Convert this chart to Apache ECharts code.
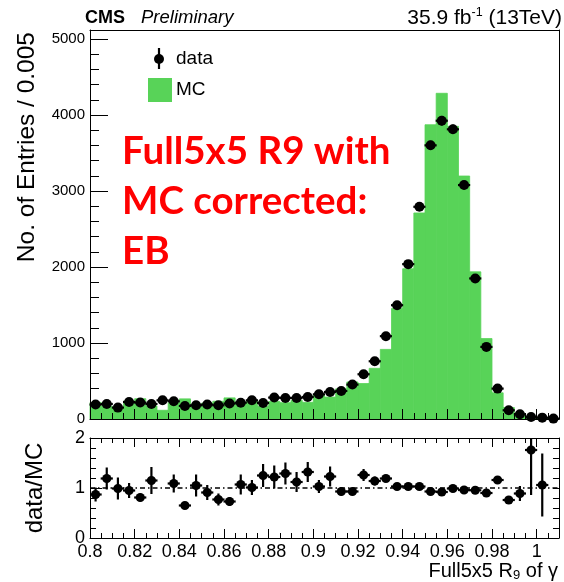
<!DOCTYPE html>
<html>
<head>
<meta charset="utf-8">
<script src="https://cdn.jsdelivr.net/npm/echarts@6/dist/echarts.min.js"></script>
<style>
  html, body { margin: 0; padding: 0; background: #fff; }
  #chart { width: 564px; height: 582px; }
</style>
</head>
<body>
<div id="chart"></div>
<script>
// Full5x5 R9 distribution for barrel photons: data vs. corrected MC, with data/MC ratio.

// Bin centres (bin width 0.005)
const binCenters = [
  0.8025, 0.8075, 0.8125, 0.8175, 0.8225, 0.8275, 0.8325, 0.8375, 0.8425, 0.8475,
  0.8525, 0.8575, 0.8625, 0.8675, 0.8725, 0.8775, 0.8825, 0.8875, 0.8925, 0.8975,
  0.9025, 0.9075, 0.9125, 0.9175, 0.9225, 0.9275, 0.9325, 0.9375, 0.9425, 0.9475,
  0.9525, 0.9575, 0.9625, 0.9675, 0.9725, 0.9775, 0.9825, 0.9875, 0.9925, 0.9975,
  1.0025, 1.0075
];
const binHalfWidth = 0.0025;

// Data entries per bin
const dataCounts = [
  190, 198, 150, 224, 216, 198, 246, 233, 172, 180,
  190, 180, 203, 215, 246, 211, 282, 277, 277, 290,
  325, 356, 369, 453, 589, 760, 1090, 1498, 2038, 2793,
  3602, 3926, 3813, 3079, 1850, 949, 400, 115, 62, 27,
  18, 5
];
const dataErrors = [
  14, 14, 12, 15, 15, 14, 16, 15, 13, 13,
  14, 13, 14, 15, 16, 15, 17, 17, 17, 17,
  18, 19, 19, 21, 24, 28, 33, 39, 45, 53,
  60, 63, 62, 55, 43, 31, 20, 11, 8, 5,
  4, 2
];

// Corrected MC entries per bin
const mcCounts = [
  218, 166, 152, 236, 267, 172, 115, 214, 265, 171,
  209, 234, 278, 201, 244, 169, 231, 215, 247, 220,
  316, 289, 397, 487, 467, 667, 916, 1454, 1978, 2712,
  3873, 4287, 3852, 3198, 1937, 1059, 345, 151, 70, 15,
  17, 0
];

// data/MC ratio and its uncertainty
const ratioValues = [
  0.87, 1.19, 0.99, 0.95, 0.81, 1.15, null, 1.09, 0.65, 1.05,
  0.91, 0.77, 0.73, 1.07, 1.01, 1.25, 1.22, 1.29, 1.12, 1.32,
  1.03, 1.23, 0.93, 0.93, 1.26, 1.14, 1.19, 1.03, 1.03, 1.03,
  0.93, 0.92, 0.99, 0.96, 0.955, 0.90, 1.16, 0.76, 0.89, 1.76,
  1.06, null
];
const ratioErrors = [
  0.14, 0.22, 0.22, 0.15, 0.08, 0.27, 0, 0.18, 0.07, 0.22,
  0.15, 0.12, 0.09, 0.20, 0.15, 0.23, 0.23, 0.22, 0.20, 0.20,
  0.13, 0.20, 0.08, 0.07, 0.12, 0.09, 0.07, 0.04, 0.03, 0.03,
  0.02, 0.02, 0.02, 0.02, 0.03, 0.03, 0.06, 0.08, 0.15, 0.90,
  0.63, 0
];

// Axis ticks and labels
const xMajorTicks = [0.8, 0.82, 0.84, 0.86, 0.88, 0.9, 0.92, 0.94, 0.96, 0.98, 1.0];
const xMinorTicks = [
  0.805, 0.81, 0.815, 0.825, 0.83, 0.835, 0.845, 0.85, 0.855, 0.865, 0.87, 0.875,
  0.885, 0.89, 0.895, 0.905, 0.91, 0.915, 0.925, 0.93, 0.935, 0.945, 0.95, 0.955,
  0.965, 0.97, 0.975, 0.985, 0.99, 0.995, 1.005
];
const mainYMajorTicks = [0, 1000, 2000, 3000, 4000, 5000];
const mainYMinorTicks = [
  200, 400, 600, 800, 1200, 1400, 1600, 1800, 2200, 2400, 2600, 2800,
  3200, 3400, 3600, 3800, 4200, 4400, 4600, 4800
];
const ratioYMajorTicks = [0, 1, 2];
const ratioYMinorTicks = [0.2, 0.4, 0.6, 0.8, 1.2, 1.4, 1.6, 1.8];
const ratioYRightTicks = [0, 0.2, 0.4, 0.6, 0.8, 1, 1.2, 1.4, 1.6, 1.8, 2];

const X_MIN = 0.8, X_MAX = 1.01;
const MAIN_Y_MAX = 5120;
const GREEN = '#58d358';
const FONT = '"Liberation Sans", Arial, sans-serif';
const NOTE_FONT = 'Lato, "Open Sans", sans-serif';

const chart = echarts.init(document.getElementById('chart'), null, { renderer: 'canvas' });

function tickAxis(opts) {
  return {
    type: 'value',
    min: opts.min, max: opts.max,
    gridIndex: opts.grid,
    position: opts.position,
    z: 10,
    splitLine: { show: false },
    axisLine: { show: !!opts.line, onZero: false, lineStyle: { color: '#000', width: 1 } },
    axisTick: {
      show: !!opts.ticks, inside: true, length: opts.length || 0,
      customValues: opts.ticks || undefined,
      lineStyle: { color: '#000', width: 1 }
    },
    axisLabel: opts.labels ? {
      show: true, customValues: opts.labels, margin: opts.margin,
      color: '#000', fontFamily: FONT, fontSize: opts.fontSize,
      formatter: (v) => String(v)
    } : { show: false }
  };
}

// Error-bar marker renderer: horizontal bin-width bar, vertical error, filled circle
function markerRenderer(radius) {
  return function (params, api) {
    const c = api.value(0), v = api.value(1), e = api.value(2);
    if (v == null || isNaN(v)) return null;
    const pc = api.coord([c, v]);
    const pl = api.coord([c - binHalfWidth, v]);
    const pr = api.coord([c + binHalfWidth, v]);
    const pt = api.coord([c, v + e]);
    const pb = api.coord([c, v - e]);
    return {
      type: 'group',
      children: [
        { type: 'line', shape: { x1: pl[0] - 0.5, y1: pl[1], x2: pr[0] + 0.5, y2: pr[1] }, style: { stroke: '#000', lineWidth: 2.2 } },
        { type: 'line', shape: { x1: pt[0], y1: pt[1], x2: pb[0], y2: pb[1] }, style: { stroke: '#000', lineWidth: 2.2 } },
        { type: 'circle', shape: { cx: pc[0], cy: pc[1], r: radius }, style: { fill: '#000' } }
      ]
    };
  };
}

const option = {
  animation: false,
  backgroundColor: '#fff',
  grid: [
    { left: 90, top: 30, width: 469, height: 389 },
    { left: 90, top: 438, width: 469, height: 100 }
  ],
  xAxis: [
    tickAxis({ grid: 0, position: 'bottom', min: X_MIN, max: X_MAX, line: true, ticks: xMajorTicks, length: 10 }),
    tickAxis({ grid: 0, position: 'bottom', min: X_MIN, max: X_MAX, ticks: xMinorTicks, length: 6 }),
    tickAxis({ grid: 0, position: 'top', min: X_MIN, max: X_MAX, line: true }),
    tickAxis({ grid: 1, position: 'bottom', min: X_MIN, max: X_MAX, line: true, ticks: xMajorTicks, length: 9,
               labels: xMajorTicks, margin: 5, fontSize: 18 }),
    tickAxis({ grid: 1, position: 'bottom', min: X_MIN, max: X_MAX, ticks: xMinorTicks, length: 5 }),
    tickAxis({ grid: 1, position: 'top', min: X_MIN, max: X_MAX, line: true, ticks: xMajorTicks, length: 9 }),
    tickAxis({ grid: 1, position: 'top', min: X_MIN, max: X_MAX, ticks: xMinorTicks, length: 5 })
  ],
  yAxis: [
    tickAxis({ grid: 0, position: 'left', min: 0, max: MAIN_Y_MAX, line: true, ticks: mainYMajorTicks, length: 18,
               labels: mainYMajorTicks, margin: 5, fontSize: 15 }),
    tickAxis({ grid: 0, position: 'left', min: 0, max: MAIN_Y_MAX, ticks: mainYMinorTicks, length: 9 }),
    tickAxis({ grid: 0, position: 'right', min: 0, max: MAIN_Y_MAX, line: true }),
    tickAxis({ grid: 1, position: 'left', min: 0, max: 2, line: true, ticks: ratioYMajorTicks, length: 12,
               labels: ratioYMajorTicks, margin: 5, fontSize: 18 }),
    tickAxis({ grid: 1, position: 'left', min: 0, max: 2, ticks: ratioYMinorTicks, length: 6 }),
    tickAxis({ grid: 1, position: 'right', min: 0, max: 2, line: true, ticks: ratioYRightTicks, length: 6 })
  ],
  series: [
    {
      name: 'MC',
      type: 'custom',
      xAxisIndex: 0, yAxisIndex: 0,
      z: 2,
      data: binCenters.map((c, i) => [c, mcCounts[i]]),
      renderItem: function (params, api) {
        const c = api.value(0), v = api.value(1);
        if (!v) return null;
        const p0 = api.coord([c - binHalfWidth, v]);
        const p1 = api.coord([c + binHalfWidth, 0]);
        return {
          type: 'rect',
          shape: { x: p0[0], y: p0[1], width: p1[0] - p0[0], height: p1[1] - p0[1] },
          style: { fill: GREEN, stroke: GREEN, lineWidth: 0.8 }
        };
      }
    },
    {
      name: 'data',
      type: 'custom',
      xAxisIndex: 0, yAxisIndex: 0,
      z: 20,
      data: binCenters.map((c, i) => [c, dataCounts[i], dataErrors[i]]),
      renderItem: markerRenderer(5)
    },
    {
      name: 'unity',
      type: 'line',
      xAxisIndex: 3, yAxisIndex: 3,
      symbol: 'none',
      silent: true,
      z: 3,
      lineStyle: { color: '#000', width: 1.5, type: [5, 3, 1.5, 3] },
      data: [[X_MIN, 1], [X_MAX, 1]]
    },
    {
      name: 'ratio',
      type: 'custom',
      xAxisIndex: 3, yAxisIndex: 3,
      z: 20,
      clip: true,
      data: binCenters.map((c, i) => [c, ratioValues[i], ratioErrors[i]]),
      renderItem: markerRenderer(4.6)
    }
  ],
  graphic: [
    // Header
    { type: 'text', x: 85, y: 18, style: { text: 'CMS', fontFamily: FONT, fontWeight: 'bold', fontSize: 18, fill: '#000', verticalAlign: 'middle' } },
    { type: 'text', x: 141, y: 18, style: { text: 'Preliminary', fontFamily: FONT, fontStyle: 'italic', fontSize: 18.5, fill: '#000', verticalAlign: 'middle' } },
    { type: 'text', x: 562, y: 18, style: {
        text: '35.9 fb{sup|-1} (13TeV)', fontFamily: FONT, fontSize: 21, fill: '#000',
        align: 'right', verticalAlign: 'middle', lineHeight: 23,
        rich: { sup: { fontFamily: FONT, fontSize: 12.5, verticalAlign: 'top', lineHeight: 13, fill: '#000' } }
    } },
    // Legend
    { type: 'line', shape: { x1: 159, y1: 48, x2: 159, y2: 69 }, style: { stroke: '#000', lineWidth: 2.2 } },
    { type: 'circle', shape: { cx: 159, cy: 59, r: 5 }, style: { fill: '#000' } },
    { type: 'text', x: 176, y: 59, style: { text: 'data', fontFamily: FONT, fontSize: 19, fill: '#000', verticalAlign: 'middle' } },
    { type: 'rect', shape: { x: 148, y: 78, width: 24, height: 24 }, style: { fill: GREEN } },
    { type: 'text', x: 176, y: 90, style: { text: 'MC', fontFamily: FONT, fontSize: 19, fill: '#000', verticalAlign: 'middle' } },
    // Annotation
    { type: 'text', x: 122, y: 152, style: { text: 'Full5x5 R9 with', fontFamily: NOTE_FONT, fontWeight: 'bold', fontSize: 38.5, fill: '#ff0000', verticalAlign: 'middle' } },
    { type: 'text', x: 122, y: 202, style: { text: 'MC corrected:', fontFamily: NOTE_FONT, fontWeight: 'bold', fontSize: 38.5, fill: '#ff0000', verticalAlign: 'middle' } },
    { type: 'text', x: 122, y: 252, style: { text: 'EB', fontFamily: NOTE_FONT, fontWeight: 'bold', fontSize: 38.5, fill: '#ff0000', verticalAlign: 'middle' } },
    // Axis titles
    { type: 'text', x: 27, y: 32, rotation: Math.PI / 2, style: { text: 'No. of Entries / 0.005', fontFamily: FONT, fontSize: 24.5, fill: '#000', align: 'right', verticalAlign: 'middle' } },
    { type: 'text', x: 35, y: 488, rotation: Math.PI / 2, style: { text: 'data/MC', fontFamily: FONT, fontSize: 24, fill: '#000', align: 'center', verticalAlign: 'middle' } },
    { type: 'text', x: 558, y: 571, style: {
        text: 'Full5x5 R{sub|9} of γ', fontFamily: FONT, fontSize: 20, fill: '#000',
        align: 'right', verticalAlign: 'middle', lineHeight: 22,
        rich: { sub: { fontFamily: FONT, fontSize: 13, verticalAlign: 'bottom', lineHeight: 13, fill: '#000' } }
    } }
  ]
};

chart.setOption(option);
</script>
</body>
</html>
